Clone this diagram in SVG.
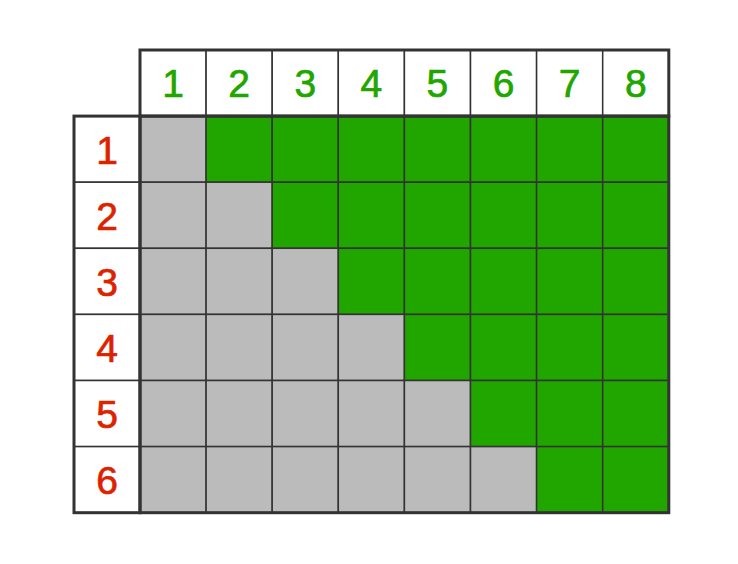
<svg xmlns="http://www.w3.org/2000/svg" width="738" height="564" viewBox="0 0 738 564">
<style>
.g{fill:#21a600}
.y{fill:#bbbbbb}
.w{fill:#ffffff}
.c{stroke:#333;stroke-width:1.5}
.b{fill:none;stroke:#333;stroke-width:3}
.t{font-family:"Liberation Sans",Arial,sans-serif;font-size:39px;text-anchor:middle;stroke-width:0.7}
.tg{fill:#21a600;stroke:#21a600}
.tr{fill:#dd2200;stroke:#dd2200}
</style>
<rect width="738" height="564" fill="#fff"/>
<g id="cells" class="c">
<g id="row1"><rect class="y" x="140" y="116.1" width="66.1" height="66.1"/><rect class="g" x="206.1" y="116.1" width="66.1" height="66.1"/><rect class="g" x="272.2" y="116.1" width="66.1" height="66.1"/><rect class="g" x="338.3" y="116.1" width="66.1" height="66.1"/><rect class="g" x="404.4" y="116.1" width="66.1" height="66.1"/><rect class="g" x="470.5" y="116.1" width="66.1" height="66.1"/><rect class="g" x="536.6" y="116.1" width="66.1" height="66.1"/><rect class="g" x="602.7" y="116.1" width="66.1" height="66.1"/></g>
<g id="row2"><rect class="y" x="140" y="182.2" width="66.1" height="66.1"/><rect class="y" x="206.1" y="182.2" width="66.1" height="66.1"/><rect class="g" x="272.2" y="182.2" width="66.1" height="66.1"/><rect class="g" x="338.3" y="182.2" width="66.1" height="66.1"/><rect class="g" x="404.4" y="182.2" width="66.1" height="66.1"/><rect class="g" x="470.5" y="182.2" width="66.1" height="66.1"/><rect class="g" x="536.6" y="182.2" width="66.1" height="66.1"/><rect class="g" x="602.7" y="182.2" width="66.1" height="66.1"/></g>
<g id="row3"><rect class="y" x="140" y="248.3" width="66.1" height="66.1"/><rect class="y" x="206.1" y="248.3" width="66.1" height="66.1"/><rect class="y" x="272.2" y="248.3" width="66.1" height="66.1"/><rect class="g" x="338.3" y="248.3" width="66.1" height="66.1"/><rect class="g" x="404.4" y="248.3" width="66.1" height="66.1"/><rect class="g" x="470.5" y="248.3" width="66.1" height="66.1"/><rect class="g" x="536.6" y="248.3" width="66.1" height="66.1"/><rect class="g" x="602.7" y="248.3" width="66.1" height="66.1"/></g>
<g id="row4"><rect class="y" x="140" y="314.4" width="66.1" height="66.1"/><rect class="y" x="206.1" y="314.4" width="66.1" height="66.1"/><rect class="y" x="272.2" y="314.4" width="66.1" height="66.1"/><rect class="y" x="338.3" y="314.4" width="66.1" height="66.1"/><rect class="g" x="404.4" y="314.4" width="66.1" height="66.1"/><rect class="g" x="470.5" y="314.4" width="66.1" height="66.1"/><rect class="g" x="536.6" y="314.4" width="66.1" height="66.1"/><rect class="g" x="602.7" y="314.4" width="66.1" height="66.1"/></g>
<g id="row5"><rect class="y" x="140" y="380.5" width="66.1" height="66.1"/><rect class="y" x="206.1" y="380.5" width="66.1" height="66.1"/><rect class="y" x="272.2" y="380.5" width="66.1" height="66.1"/><rect class="y" x="338.3" y="380.5" width="66.1" height="66.1"/><rect class="y" x="404.4" y="380.5" width="66.1" height="66.1"/><rect class="g" x="470.5" y="380.5" width="66.1" height="66.1"/><rect class="g" x="536.6" y="380.5" width="66.1" height="66.1"/><rect class="g" x="602.7" y="380.5" width="66.1" height="66.1"/></g>
<g id="row6"><rect class="y" x="140" y="446.6" width="66.1" height="66.1"/><rect class="y" x="206.1" y="446.6" width="66.1" height="66.1"/><rect class="y" x="272.2" y="446.6" width="66.1" height="66.1"/><rect class="y" x="338.3" y="446.6" width="66.1" height="66.1"/><rect class="y" x="404.4" y="446.6" width="66.1" height="66.1"/><rect class="y" x="470.5" y="446.6" width="66.1" height="66.1"/><rect class="g" x="536.6" y="446.6" width="66.1" height="66.1"/><rect class="g" x="602.7" y="446.6" width="66.1" height="66.1"/></g>
</g>
<g id="col-header" class="c">
<rect class="w" x="140" y="50" width="66.1" height="66.1"/><rect class="w" x="206.1" y="50" width="66.1" height="66.1"/><rect class="w" x="272.2" y="50" width="66.1" height="66.1"/><rect class="w" x="338.3" y="50" width="66.1" height="66.1"/><rect class="w" x="404.4" y="50" width="66.1" height="66.1"/><rect class="w" x="470.5" y="50" width="66.1" height="66.1"/><rect class="w" x="536.6" y="50" width="66.1" height="66.1"/><rect class="w" x="602.7" y="50" width="66.1" height="66.1"/>
</g>
<g id="row-header" class="c">
<rect class="w" x="74" y="116.1" width="66" height="66.1"/><rect class="w" x="74" y="182.2" width="66" height="66.1"/><rect class="w" x="74" y="248.3" width="66" height="66.1"/><rect class="w" x="74" y="314.4" width="66" height="66.1"/><rect class="w" x="74" y="380.5" width="66" height="66.1"/><rect class="w" x="74" y="446.6" width="66" height="66.1"/>
</g>
<g id="borders">
<rect class="b" x="140" y="50" width="528.8" height="66.1"/>
<rect class="b" x="74" y="116.1" width="66" height="396.6"/>
<rect class="b" x="140" y="116.1" width="528.8" height="396.6"/>
</g>
<g id="labels" class="t">
<text class="tg" x="173.05" y="97">1</text>
<text class="tg" x="239.15" y="97">2</text>
<text class="tg" x="305.25" y="97">3</text>
<text class="tg" x="371.35" y="97">4</text>
<text class="tg" x="437.45" y="97">5</text>
<text class="tg" x="503.55" y="97">6</text>
<text class="tg" x="569.65" y="97">7</text>
<text class="tg" x="635.75" y="97">8</text>
<text class="tr" x="107" y="163.5">1</text>
<text class="tr" x="107" y="229.6">2</text>
<text class="tr" x="107" y="295.7">3</text>
<text class="tr" x="107" y="361.8">4</text>
<text class="tr" x="107" y="427.9">5</text>
<text class="tr" x="107" y="494">6</text>
</g>
</svg>
